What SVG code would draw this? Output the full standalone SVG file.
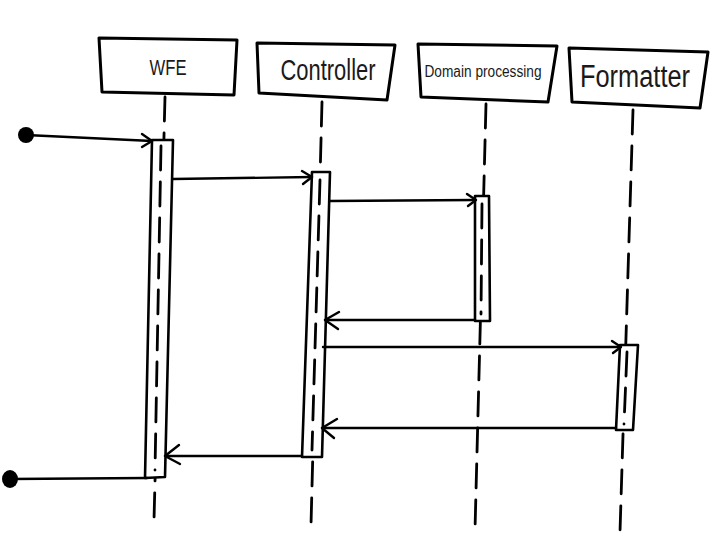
<svg xmlns="http://www.w3.org/2000/svg" width="716" height="538" viewBox="0 0 716 538">
<style>
.box{fill:#fff;stroke:#000;stroke-width:3;stroke-linejoin:round}
.life{fill:none;stroke:#000;stroke-width:2.8;stroke-dasharray:24 12;stroke-linecap:round}
.act{fill:#fff;stroke:#000;stroke-width:2.6;stroke-linejoin:round}
.lbl{font-family:"Liberation Sans","DejaVu Sans",sans-serif;fill:#1a1a1a;text-anchor:middle}
.msg{fill:none;stroke:#000;stroke-width:2.4;stroke-linecap:round}
.head{fill:none;stroke:#000;stroke-width:2.4;stroke-linecap:round;stroke-linejoin:round}
</style>
<rect width="716" height="538" fill="#fff"/>
<g id="wfe">
<polygon class="box" points="99,38 237,40 234,95 102,92"/>
<text class="lbl" x="168" y="75" font-size="22" textLength="37" lengthAdjust="spacingAndGlyphs">WFE</text>
<line class="life" x1="165" y1="97" x2="154" y2="520"/>
<polygon class="act" points="152,140 173,140 165,477 145,478"/>
<line class="life" x1="161" y1="146" x2="155" y2="470" stroke-dasharray="20 12"/>
</g>
<g id="controller">
<polygon class="box" points="257,43 395,45 387,100 259,93"/>
<text class="lbl" x="328" y="80" font-size="30" textLength="95" lengthAdjust="spacingAndGlyphs">Controller</text>
<line class="life" x1="322" y1="102" x2="311" y2="525"/>
<polygon class="act" points="312,172 330,172 322,457 302,457"/>
<line class="life" x1="320" y1="180" x2="312" y2="450" stroke-dasharray="20 12"/>
</g>
<g id="domain">
<polygon class="box" points="418,44 557,46 548,102 421,97"/>
<text class="lbl" x="483" y="77" font-size="16" textLength="117" lengthAdjust="spacingAndGlyphs">Domain processing</text>
<line class="life" x1="486" y1="104" x2="475" y2="530"/>
<polygon class="act" points="475,196 489,196 490,321 475,321"/>
<line class="life" x1="482" y1="204" x2="481" y2="314" stroke-dasharray="18 12"/>
</g>
<g id="formatter">
<polygon class="box" points="569,48 708,52 700,108 572,102"/>
<text class="lbl" x="635" y="87" font-size="31" textLength="110" lengthAdjust="spacingAndGlyphs">Formatter</text>
<line class="life" x1="633" y1="110" x2="620" y2="532"/>
<polygon class="act" points="620,345 638,345 633,430 616,430"/>
<line class="life" x1="627" y1="352" x2="624" y2="424" stroke-dasharray="18 10"/>
</g>
<g id="connectors">
<circle cx="26" cy="135" r="8" fill="#000"/>
<line class="msg" x1="26" y1="135" x2="152" y2="141"/>
<polyline class="head" points="142,134 152,141 142,147"/>
<line class="msg" x1="173" y1="179" x2="312" y2="177"/>
<polyline class="head" points="302,171 312,177 303,184"/>
<line class="msg" x1="330" y1="201" x2="475" y2="200"/>
<polyline class="head" points="467,194 476,200 468,206"/>
<line class="msg" x1="475" y1="320" x2="325" y2="320"/>
<polyline class="head" points="339,312 325,320 338,329"/>
<line class="msg" x1="323" y1="347" x2="620" y2="347"/>
<polyline class="head" points="612,341 621,347 613,353"/>
<line class="msg" x1="616" y1="428" x2="322" y2="428"/>
<polyline class="head" points="337,419 322,428 334,438"/>
<line class="msg" x1="302" y1="456" x2="165" y2="456"/>
<polyline class="head" points="179,445 165,456 180,464"/>
<line class="msg" x1="147" y1="478" x2="10" y2="479"/>
<ellipse cx="10" cy="479" rx="8" ry="9" fill="#000"/>
</g>
</svg>
